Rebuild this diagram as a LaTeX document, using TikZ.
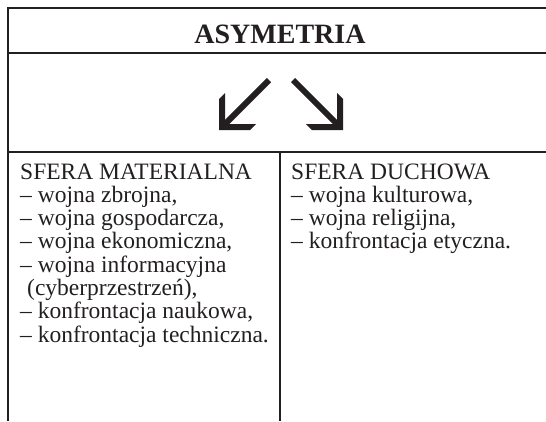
\documentclass[tikz,border=0pt]{standalone}
\usepackage{fontspec}
\setmainfont{Liberation Serif}

\definecolor{inkcolor}{RGB}{35, 31, 32}

\begin{document}
\begin{tikzpicture}[x=1pt, y=-1pt,
        rule/.style={draw=inkcolor, line width=2pt},
        shaft/.style={draw=inkcolor, line width=6pt},
        head/.style={fill=inkcolor, draw=none},
        item/.style={anchor=base west, inner sep=0pt, text=inkcolor,
            font=\fontsize{23.5}{28}\selectfont}]
            \useasboundingbox (0,0) rectangle (546,421);

            % Ramka tabeli
            \draw[rule] (546,8) -- (8,8) -- (8,421);
            \draw[rule] (8,53) -- (546,53);
            \draw[rule] (8,152) -- (546,152);
            \draw[rule] (280,152) -- (280,421);

            % Naglowek
            \node[anchor=base, inner sep=0pt, text=inkcolor,
                font=\fontsize{28}{34}\selectfont\bfseries] (title) at (280,43) {ASYMETRIA};

            % Strzalki
            \coordinate (left-s) at (269,80);
            \coordinate (left-c) at (222,127);
            \coordinate (right-s) at (293,80);
            \coordinate (right-c) at (340,127);
            \draw[shaft] (left-s) -- (left-c);
            \fill[head] (219,130) -- (219,99) -- (225,93) -- (225,124)
                -- (256,124) -- (250,130) -- cycle;
            \draw[shaft] (right-s) -- (right-c);
            \fill[head] (343,130) -- (343,99) -- (337,93) -- (337,124)
                -- (306,124) -- (312,130) -- cycle;

            % Sfera materialna
            \foreach \i/\txt in {0/SFERA MATERIALNA, {1/– wojna zbrojna,},
                {2/– wojna gospodarcza,}, {3/– wojna ekonomiczna,},
                4/– wojna informacyjna, {5/\hspace*{7pt}(cyberprzestrzeń),},
                {6/– konfrontacja naukowa,}, 7/– konfrontacja techniczna.} {
                \node[item] (mat\i) at (20,179+23.3*\i) {\txt};
            }

            % Sfera duchowa
            \foreach \i/\txt in {0/SFERA DUCHOWA, {1/– wojna kulturowa,},
                {2/– wojna religijna,}, 3/– konfrontacja etyczna.} {
                \node[item] (duch\i) at (291,179+23.3*\i) {\txt};
            }
        \end{tikzpicture}
\end{document}
